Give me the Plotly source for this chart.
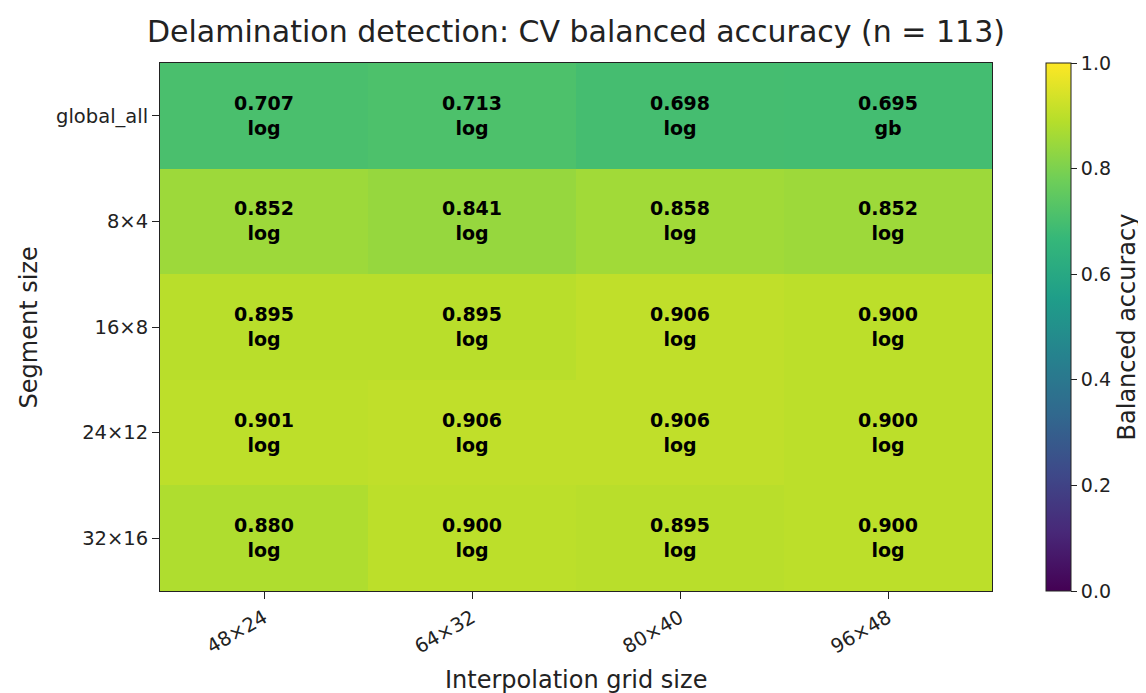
import plotly.graph_objects as go

grid_sizes = ["48×24", "64×32", "80×40", "96×48"]
segment_sizes = ["global_all", "8×4", "16×8", "24×12", "32×16"]
accuracy = [
    [0.707, 0.713, 0.698, 0.695],
    [0.852, 0.841, 0.858, 0.852],
    [0.895, 0.895, 0.906, 0.900],
    [0.901, 0.906, 0.906, 0.900],
    [0.880, 0.900, 0.895, 0.900],
]
best_model = [
    ["log", "log", "log", "gb"],
    ["log", "log", "log", "log"],
    ["log", "log", "log", "log"],
    ["log", "log", "log", "log"],
    ["log", "log", "log", "log"],
]
colorbar_ticks = [0.0, 0.2, 0.4, 0.6, 0.8, 1.0]

text = [[f"<b>{v:.3f}<br>{m}</b>" for v, m in zip(rv, rm)] for rv, rm in zip(accuracy, best_model)]

FONT = "DejaVu Sans"
INK = "#222"
fig = go.Figure(go.Heatmap(
    z=accuracy, x=grid_sizes, y=segment_sizes,
    zmin=0, zmax=1, colorscale="Viridis",
    text=text, texttemplate="%{text}",
    textfont=dict(family=FONT, size=19, color="black"),
    colorbar=dict(
        title=dict(text="Balanced accuracy", side="right", font=dict(family=FONT, size=24, color=INK)),
        tickvals=colorbar_ticks, ticktext=[f"{t:.1f}" for t in colorbar_ticks],
        ticks="outside", ticklen=6, tickcolor=INK,
        tickfont=dict(family=FONT, size=19, color=INK),
        thickness=25, len=1.0, lenmode="fraction", y=0.5, yanchor="middle",
        x=1.0654, xanchor="left", xpad=0, ypad=0,
        outlinewidth=1, outlinecolor=INK,
    ),
))

fig.update_layout(
    width=1146, height=693,
    margin=dict(l=152, r=141, t=55, b=110),
    paper_bgcolor="white", plot_bgcolor="white",
    font=dict(family=FONT, color=INK),
    title=dict(text="Delamination detection: CV balanced accuracy (n = 113)",
               x=0.5, xref="paper", xanchor="center", y=0.9654, yanchor="middle",
               font=dict(family=FONT, size=30, color=INK)),
    annotations=[
        dict(text="Interpolation grid size", xref="paper", yref="paper",
             x=0.5, y=-0.1686, xanchor="center", yanchor="middle", showarrow=False,
             font=dict(family=FONT, size=24, color=INK)),
        dict(text="Segment size", xref="paper", yref="paper", textangle=-90,
             x=-0.157, y=0.5, xanchor="center", yanchor="middle", showarrow=False,
             font=dict(family=FONT, size=24, color=INK)),
    ],
)
fig.update_xaxes(
    tickangle=-30, ticks="outside", ticklen=7, tickcolor=INK,
    tickfont=dict(family=FONT, size=19.5, color=INK),
    showline=True, linecolor=INK, linewidth=1, mirror=True, showgrid=False,
)
fig.update_yaxes(
    autorange="reversed", ticks="outside", ticklen=7, tickcolor=INK,
    tickfont=dict(family=FONT, size=19.5, color=INK),
    showline=True, linecolor=INK, linewidth=1, mirror=True, showgrid=False,
)

fig.write_html("out.html")
